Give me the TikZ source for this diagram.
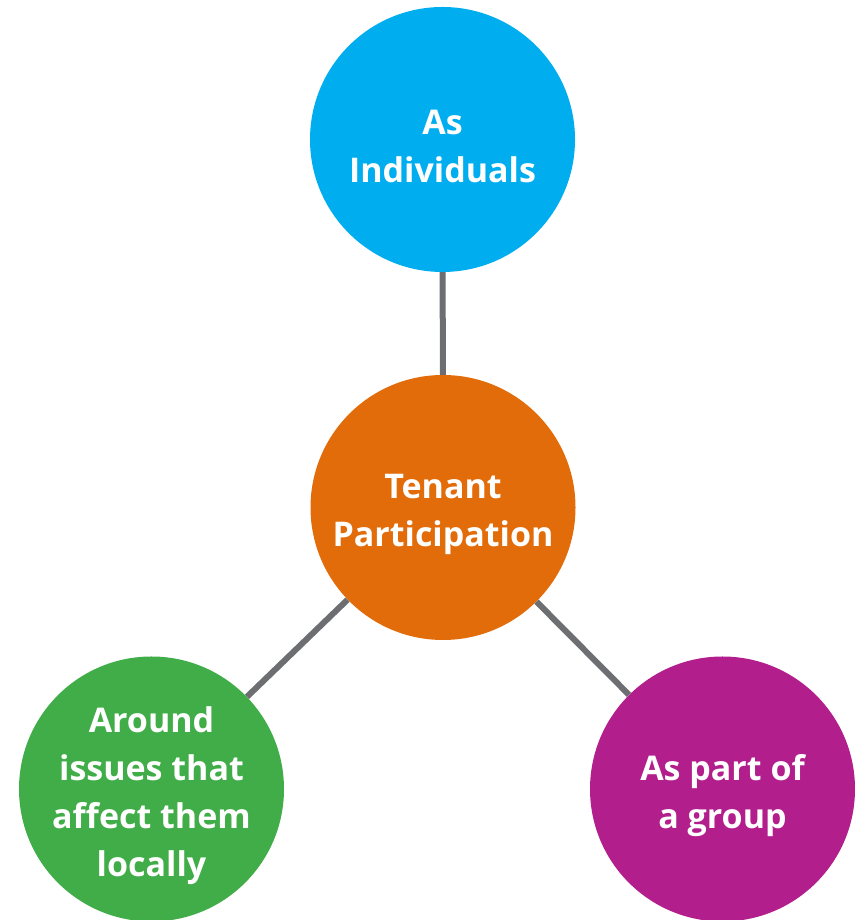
\documentclass[tikz,border=0pt]{standalone}
\usepackage{fontspec}
\setmainfont{Open Sans}[BoldFont={* Bold}]
\definecolor{ccyan}{HTML}{00AEEF}
\definecolor{corange}{HTML}{E36C0A}
\definecolor{cgreen}{HTML}{41AD49}
\definecolor{cmagenta}{HTML}{B31E8D}
\definecolor{cgray}{HTML}{6D6E71}
\begin{document}
\begin{tikzpicture}[x=1pt,y=1pt,
  bubble/.style={circle,minimum size=265pt,inner sep=0pt},
  btext/.style={text=white,align=center,yshift=-7pt,
    font=\bfseries\fontsize{34}{48}\selectfont},
  link/.style={draw=cgray,line width=6pt}]
\useasboundingbox (0,0) rectangle (854,920);
\node[bubble,fill=ccyan,label={[btext]center:As\\Individuals}] (top) at (442.5,780.5) {};
\node[bubble,fill=corange,label={[btext]center:Tenant\\Participation}] (mid) at (443,412.5) {};
\node[bubble,fill=cgreen,label={[btext]center:Around\\issues that\\affect them\\locally}] (left) at (151.5,131) {};
\node[bubble,fill=cmagenta,label={[btext]center:As part of\\a group}] (right) at (722.5,131) {};
\draw[link] (top) -- (mid);
\draw[link] (mid) -- (left);
\draw[link] (mid) -- (right);
\end{tikzpicture}
\end{document}
